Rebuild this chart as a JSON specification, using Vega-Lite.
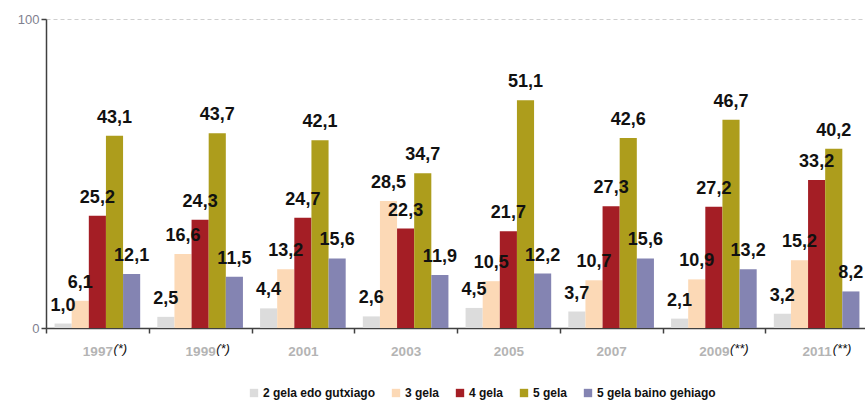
{
  "$schema": "https://vega.github.io/schema/vega-lite/v6.json",
  "width": 822,
  "height": 309,
  "autosize": {"type": "none"},
  "padding": {"left": 46, "top": 19, "right": 0, "bottom": 77},
  "background": "white",
  "config": {
    "locale": {"number": {"decimal": ",", "thousands": ".", "grouping": [3], "currency": ["", "€"]}},
    "view": {"stroke": null},
    "font": "Liberation Sans"
  },
  "datasets": {
    "bars": [
      {"year": "1997", "cat": "2 gela edo gutxiago", "v": 1.0},
      {"year": "1997", "cat": "3 gela", "v": 6.1},
      {"year": "1997", "cat": "4 gela", "v": 25.2},
      {"year": "1997", "cat": "5 gela", "v": 43.1},
      {"year": "1997", "cat": "5 gela baino gehiago", "v": 12.1},
      {"year": "1999", "cat": "2 gela edo gutxiago", "v": 2.5},
      {"year": "1999", "cat": "3 gela", "v": 16.6},
      {"year": "1999", "cat": "4 gela", "v": 24.3},
      {"year": "1999", "cat": "5 gela", "v": 43.7},
      {"year": "1999", "cat": "5 gela baino gehiago", "v": 11.5},
      {"year": "2001", "cat": "2 gela edo gutxiago", "v": 4.4},
      {"year": "2001", "cat": "3 gela", "v": 13.2},
      {"year": "2001", "cat": "4 gela", "v": 24.7},
      {"year": "2001", "cat": "5 gela", "v": 42.1},
      {"year": "2001", "cat": "5 gela baino gehiago", "v": 15.6},
      {"year": "2003", "cat": "2 gela edo gutxiago", "v": 2.6},
      {"year": "2003", "cat": "3 gela", "v": 28.5},
      {"year": "2003", "cat": "4 gela", "v": 22.3},
      {"year": "2003", "cat": "5 gela", "v": 34.7},
      {"year": "2003", "cat": "5 gela baino gehiago", "v": 11.9},
      {"year": "2005", "cat": "2 gela edo gutxiago", "v": 4.5},
      {"year": "2005", "cat": "3 gela", "v": 10.5},
      {"year": "2005", "cat": "4 gela", "v": 21.7},
      {"year": "2005", "cat": "5 gela", "v": 51.1},
      {"year": "2005", "cat": "5 gela baino gehiago", "v": 12.2},
      {"year": "2007", "cat": "2 gela edo gutxiago", "v": 3.7},
      {"year": "2007", "cat": "3 gela", "v": 10.7},
      {"year": "2007", "cat": "4 gela", "v": 27.3},
      {"year": "2007", "cat": "5 gela", "v": 42.6},
      {"year": "2007", "cat": "5 gela baino gehiago", "v": 15.6},
      {"year": "2009", "cat": "2 gela edo gutxiago", "v": 2.1},
      {"year": "2009", "cat": "3 gela", "v": 10.9},
      {"year": "2009", "cat": "4 gela", "v": 27.2},
      {"year": "2009", "cat": "5 gela", "v": 46.7},
      {"year": "2009", "cat": "5 gela baino gehiago", "v": 13.2},
      {"year": "2011", "cat": "2 gela edo gutxiago", "v": 3.2},
      {"year": "2011", "cat": "3 gela", "v": 15.2},
      {"year": "2011", "cat": "4 gela", "v": 33.2},
      {"year": "2011", "cat": "5 gela", "v": 40.2},
      {"year": "2011", "cat": "5 gela baino gehiago", "v": 8.2}
    ],
    "notes": [
      {"year": "1997", "note": "(*)"},
      {"year": "1999", "note": "(*)"},
      {"year": "2009", "note": "(**)"},
      {"year": "2011", "note": "(**)"}
    ]
  },
  "layer": [
    {
      "data": {"name": "bars"},
      "mark": {"type": "bar"},
      "encoding": {
        "x": {
          "field": "year", "type": "nominal",
          "sort": ["1997", "1999", "2001", "2003", "2005", "2007", "2009", "2011"],
          "scale": {"paddingInner": 0, "paddingOuter": 0},
          "axis": {
            "title": null, "labelAngle": 0, "tickBand": "extent", "grid": false,
            "domainColor": "#404040", "domainWidth": 1.5,
            "tickColor": "#404040", "tickSize": 5, "tickWidth": 1.5,
            "labelColor": "#b4b4b4", "labelFontSize": 13.5, "labelFontWeight": "bold",
            "labelPadding": 11
          }
        },
        "xOffset": {
          "field": "cat", "type": "nominal",
          "sort": ["2 gela edo gutxiago", "3 gela", "4 gela", "5 gela", "5 gela baino gehiago"],
          "scale": {"paddingInner": 0, "paddingOuter": 0.5}
        },
        "y": {
          "field": "v", "type": "quantitative",
          "scale": {"domain": [0, 69.3], "nice": false, "zero": true},
          "axis": {
            "title": null, "values": [0, 69.3],
            "labelExpr": "datum.value == 0 ? '0' : '100'",
            "labelColor": "#7f7f8f", "labelFontSize": 13,
            "domainColor": "#404040", "domainWidth": 1.5,
            "tickColor": "#404040", "tickSize": 5, "tickWidth": 1.5,
            "grid": true, "gridColor": "#cfcfcf", "gridDash": [4, 3], "gridWidth": 1
          }
        },
        "color": {
          "field": "cat", "type": "nominal",
          "sort": ["2 gela edo gutxiago", "3 gela", "4 gela", "5 gela", "5 gela baino gehiago"],
          "scale": {
            "domain": ["2 gela edo gutxiago", "3 gela", "4 gela", "5 gela", "5 gela baino gehiago"],
            "range": ["#dcdcdc", "#fcd9b6", "#a41e25", "#ad9d1c", "#8484b2"]
          },
          "legend": {
            "title": null, "orient": "none", "direction": "horizontal",
            "legendX": 202, "legendY": 368,
            "symbolType": "square", "symbolSize": 70, "symbolStrokeWidth": 0,
            "labelFontSize": 12, "labelFontWeight": "bold", "labelColor": "#111111",
            "labelOffset": 3, "columnPadding": 14,
            "labelExpr": "datum.label == '2 gela edo gutxiago' ? datum.label + '          ' : datum.label"
          }
        }
      }
    },
    {
      "data": {"name": "bars"},
      "mark": {"type": "text", "fontSize": 18, "fontWeight": "bold", "color": "#111111", "baseline": "alphabetic", "dy": -13},
      "encoding": {
        "x": {"field": "year", "type": "nominal", "sort": ["1997", "1999", "2001", "2003", "2005", "2007", "2009", "2011"]},
        "xOffset": {"field": "cat", "type": "nominal", "sort": ["2 gela edo gutxiago", "3 gela", "4 gela", "5 gela", "5 gela baino gehiago"]},
        "y": {"field": "v", "type": "quantitative"},
        "text": {"field": "v", "type": "quantitative", "format": ".1f"}
      }
    },
    {
      "data": {"name": "notes"},
      "mark": {"type": "text", "fontSize": 13, "fontStyle": "italic", "color": "#111111", "align": "left", "baseline": "alphabetic", "dx": 16, "dy": 25},
      "encoding": {
        "x": {"field": "year", "type": "nominal", "sort": ["1997", "1999", "2001", "2003", "2005", "2007", "2009", "2011"]},
        "y": {"datum": 0},
        "text": {"field": "note"}
      }
    }
  ]
}
